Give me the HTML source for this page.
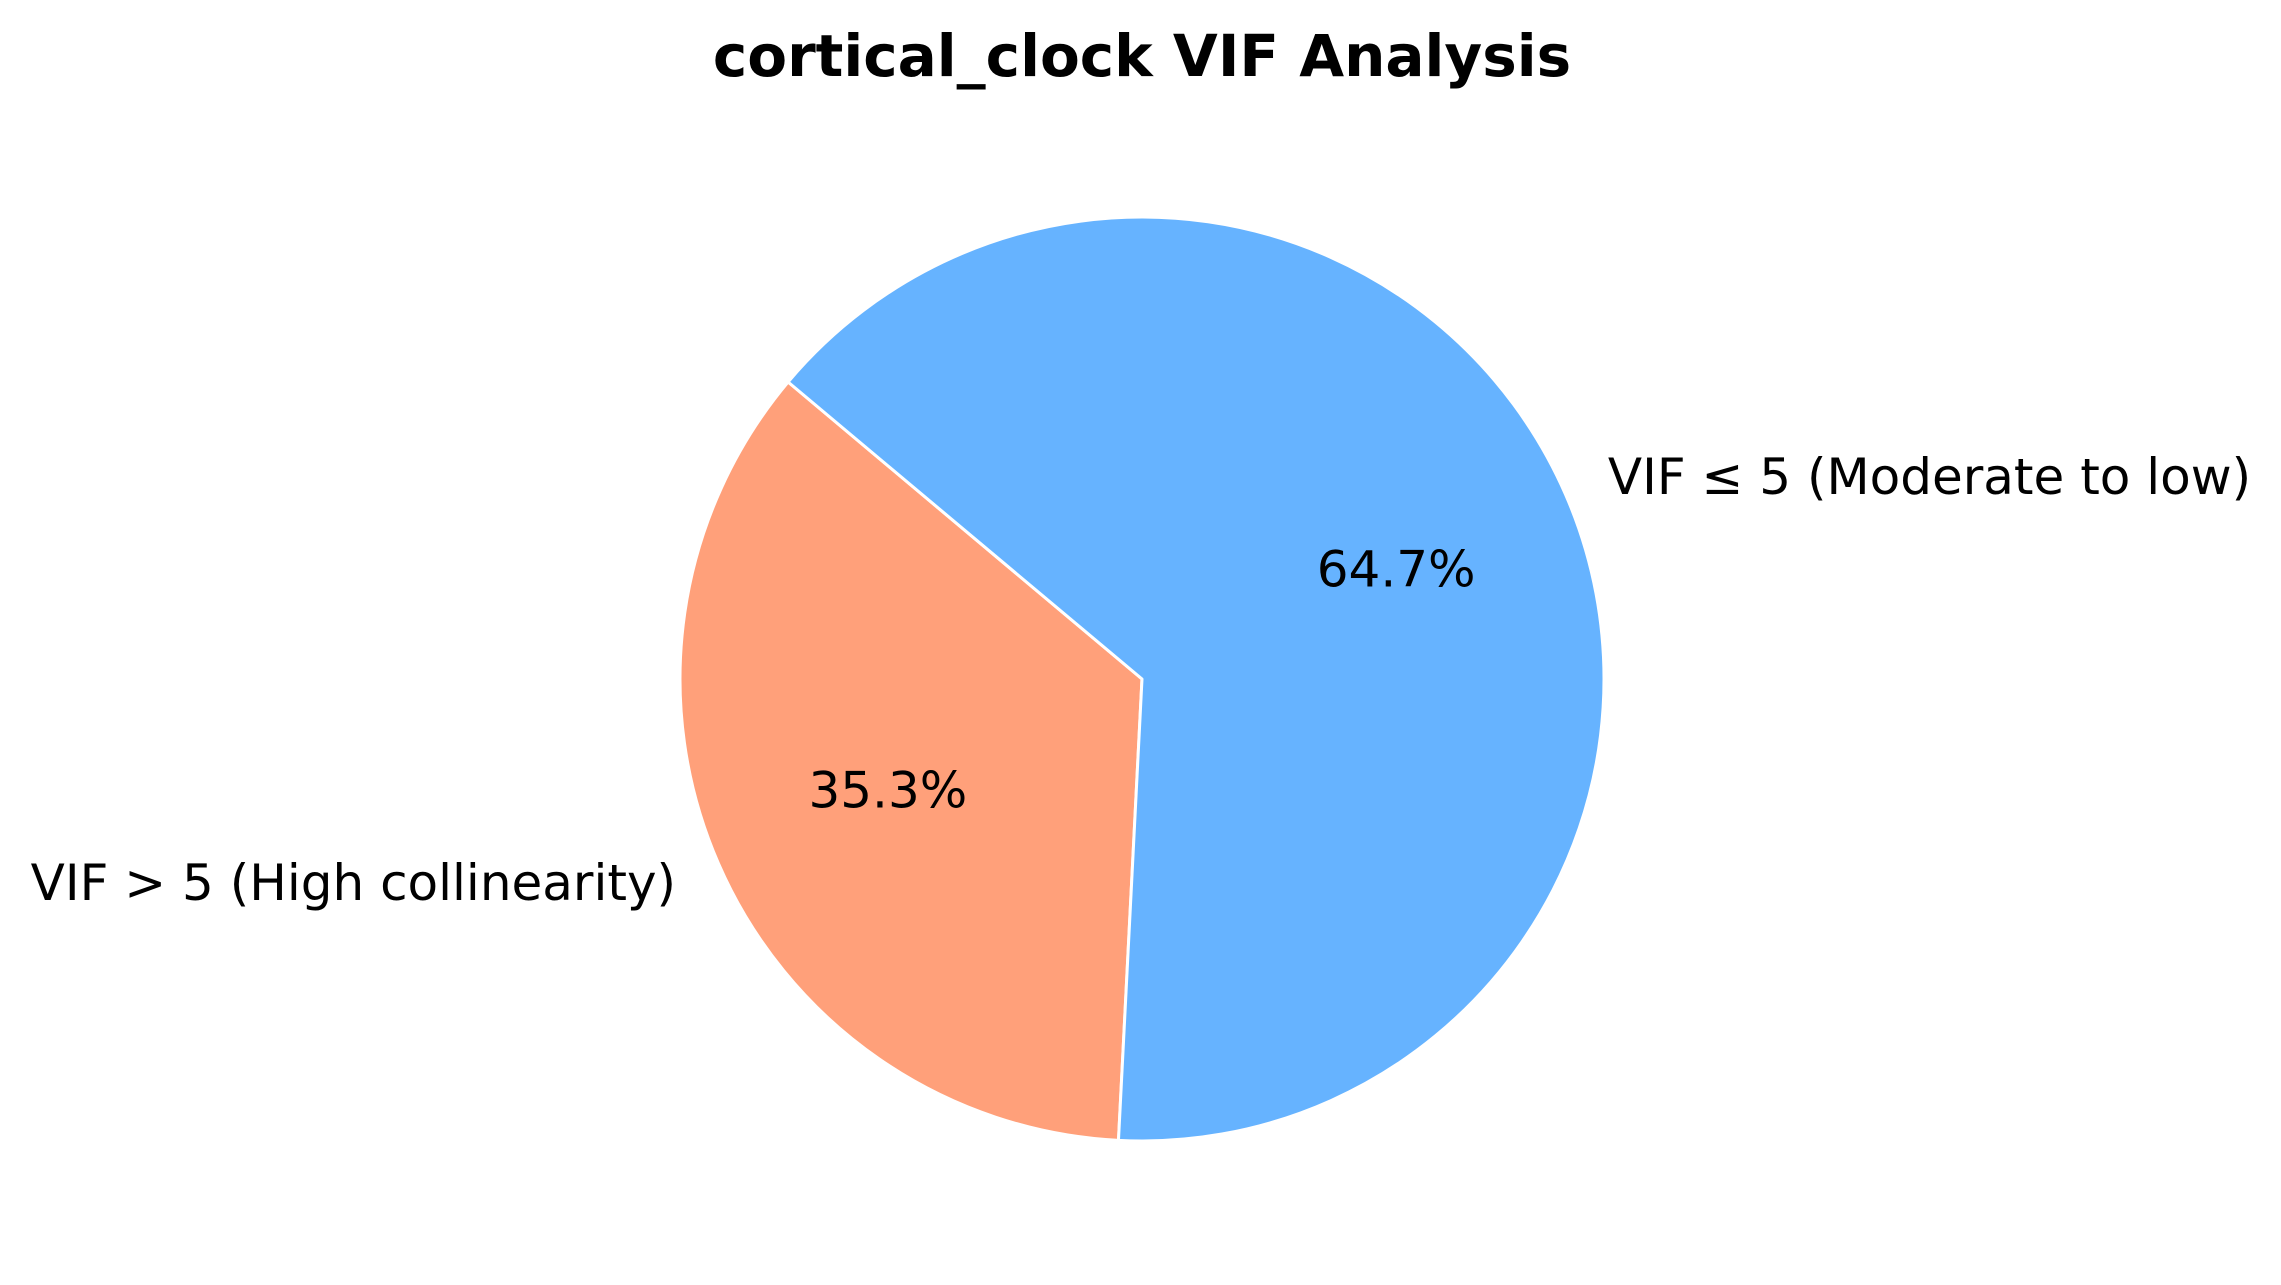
<!DOCTYPE html>
<html><head><meta charset="utf-8"><style>
html,body{margin:0;padding:0;background:#fff;}
svg{display:block;font-family:"DejaVu Sans","Liberation Sans",sans-serif;}
</style></head><body>
<svg id="chart" width="2281" height="1285" viewBox="0 0 2281 1285">
<text x="1142" y="76" text-anchor="middle" font-size="58" font-weight="bold">cortical_clock VIF Analysis</text>
<g id="slices"></g>
<g id="labels"></g>
</svg>
<script>
const categories = ["VIF > 5 (High collinearity)", "VIF ≤ 5 (Moderate to low)"];
const values = [35.3, 64.7];
const colors = ["#ffa07a", "#66b3ff"];
const startAngle = 140;
const cx = 1142, cy = 679, R = 462;
const NS = "http://www.w3.org/2000/svg";
const gS = document.getElementById('slices'), gL = document.getElementById('labels');
const total = values.reduce((a,b)=>a+b,0);
function pt(deg, r){const a=deg*Math.PI/180;return [cx+r*Math.cos(a), cy-r*Math.sin(a)];}
let ang = startAngle;
values.forEach((v,i)=>{
  const sweep = v/total*360;
  const a0 = ang, a1 = ang+sweep;
  const p0 = pt(a0,R), p1 = pt(a1,R);
  const large = sweep>180?1:0;
  const path = document.createElementNS(NS,'path');
  path.setAttribute('d',`M${cx},${cy} L${p0[0]},${p0[1]} A${R},${R} 0 ${large} 0 ${p1[0]},${p1[1]} Z`);
  path.setAttribute('fill',colors[i]);
  path.setAttribute('stroke','#fff');
  path.setAttribute('stroke-width','3');
  path.setAttribute('stroke-linejoin','round');
  
  
  gS.appendChild(path);
  const mid = (a0+a1)/2;
  const pp = pt(mid, R*0.6);
  const t = document.createElementNS(NS,'text');
  t.setAttribute('x',pp[0]); t.setAttribute('y',pp[1]+18);
  t.setAttribute('text-anchor','middle'); t.setAttribute('font-size','50');
  t.textContent = (v/total*100).toFixed(1)+'%';
  
  
  gL.appendChild(t);
  const lp = pt(mid, R*1.1);
  const c = Math.cos(mid*Math.PI/180);
  const l = document.createElementNS(NS,'text');
  l.setAttribute('x',lp[0]); l.setAttribute('y',lp[1]+18);
  l.setAttribute('text-anchor', c>=0?'start':'end');
  l.setAttribute('font-size','50');
  l.textContent = categories[i];
  
  
  gL.appendChild(l);
  ang = a1;
});
</script>
</body></html>
